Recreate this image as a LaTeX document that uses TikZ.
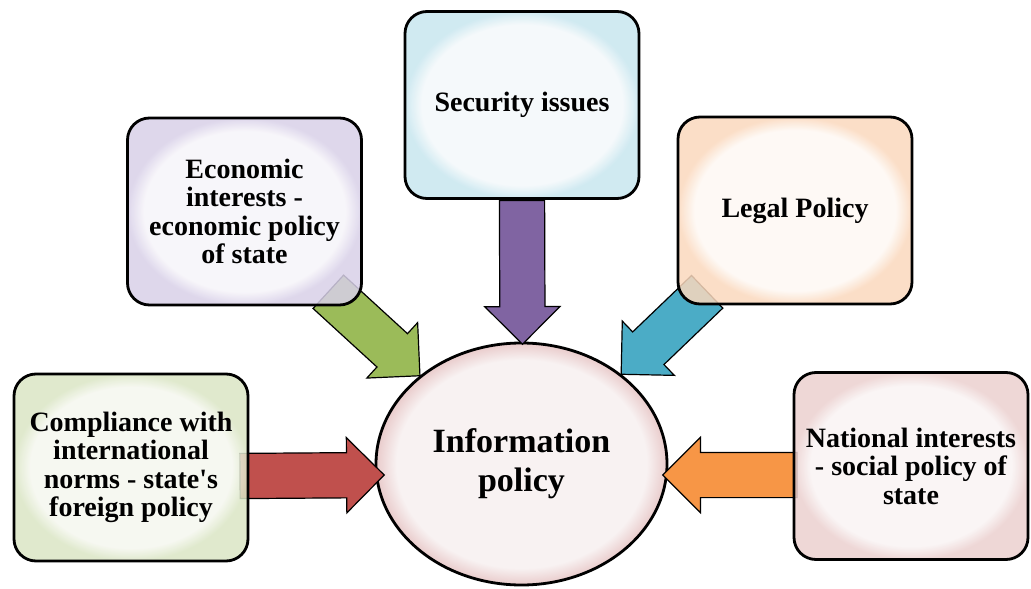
\documentclass[tikz,border=0pt]{standalone}
\usepackage{fontspec}
\setmainfont{Liberation Serif}
\usepackage{tikz}
\usetikzlibrary{arrows,shapes,positioning,calc}
\usepackage{xcolor}
\definecolor{ipred}{HTML}{C0504D}
\definecolor{ipgreen}{HTML}{9BBB59}
\definecolor{ippurple}{HTML}{8064A2}
\definecolor{ipblue}{HTML}{4BACC6}
\definecolor{iporange}{HTML}{F79646}
\definecolor{secin}{HTML}{F3F8FA}\definecolor{secout}{HTML}{C8E6EF}
\definecolor{econin}{HTML}{F6F4F9}\definecolor{econout}{HTML}{D8D0E8}
\definecolor{legalin}{HTML}{FEF8F3}\definecolor{legalout}{HTML}{FAD8BD}
\definecolor{compin}{HTML}{F5F7EF}\definecolor{compout}{HTML}{DAE5C4}
\definecolor{natin}{HTML}{F9F3F3}\definecolor{natout}{HTML}{EBD0CF}
\definecolor{infoin}{HTML}{F8F2F2}\definecolor{infoout}{HTML}{E9CBCB}
\colorlet{glossin}{white}\colorlet{glossout}{white}
\pgfdeclareradialshading[glossin,glossout]{gloss}{\pgfpoint{0bp}{0bp}}{color(0bp)=(glossin); color(21.5bp)=(glossin); color(25bp)=(glossout); color(50bp)=(glossout)}
\pgfdeclarelayer{background}
\pgfdeclarelayer{arrowlayer}
\pgfsetlayers{background,arrowlayer,main}
\tikzset{tint/.style={/utils/exec={\colorlet{glossin}{#1in}\colorlet{glossout}{#1out}}}}
\tikzstyle{topic} = [draw=black, line width=2.8pt, rounded corners=22pt, minimum width=234pt, minimum height=187pt, inner sep=0pt, align=center, shading=gloss, fill opacity=0.85, text opacity=1, font=\bfseries\fontsize{28}{28.5}\selectfont]
\tikzstyle{hub} = [ellipse, draw=black, line width=2.8pt, minimum width=291pt, minimum height=242pt, inner sep=0pt, align=center, shading=gloss, tint=info, font=\bfseries\fontsize{34}{39}\selectfont]
\tikzstyle{blockarrow} = [single arrow, draw=black, line width=1.2pt, single arrow head extend=15pt, inner xsep=0pt, inner ysep=22pt]
% block arrow from #2 to #3
\newcommand{\flowarrow}[3]{%
  \path let \p1=($(#3)-(#2)$) in
    node[blockarrow, fill=#1, anchor=tail, minimum height={veclen(\x1,\y1)}, rotate={atan2(\y1,\x1)}] at (#2) {};}

\begin{document}
\begin{tikzpicture}[x=1pt, y=-1pt]
\useasboundingbox (0,0) rectangle (1031,589);

% Centre
\begin{pgfonlayer}{background}
\node[hub] (info) at (521.5,464) {Information\\policy};
\end{pgfonlayer}

% Topics
\node[topic, tint=sec] (sec) at (522,105) {Security issues};
\node[topic, tint=econ] (econ) at (244.5,211.5) {Economic\\interests -\\economic policy\\of state};
\node[topic, tint=legal] (legal) at (795,210.5) {Legal Policy};
\node[topic, tint=comp] (comp) at (131,467.5) {Compliance with\\international\\norms - state\textquotesingle s\\foreign policy};
\node[topic, tint=nat] (nat) at (911,466) {National interests\\- social policy of\\state};

% Arrow ends
\coordinate (redtail) at ($(comp.east)+(-10,8.5)$);
\coordinate (redtip) at ($(info.west)+(9,11)$);
\coordinate (orangetail) at ($(nat.west)+(5,9)$);
\coordinate (orangetip) at ($(info.east)+(-5,11)$);
\coordinate (greentail) at ($(econ.south east)+(-35,-15)$);
\coordinate (bluetail) at ($(legal.south west)+(31,-14)$);
\coordinate (purpletip) at ($(info.north)+(1,2)$);

% Arrows
\begin{pgfonlayer}{arrowlayer}
\flowarrow{ipred}{redtail}{redtip}
\flowarrow{iporange}{orangetail}{orangetip}
\flowarrow{ippurple}{sec.south}{purpletip}
\flowarrow{ipgreen}{greentail}{info.139}
\flowarrow{ipblue}{bluetail}{info.42}
\end{pgfonlayer}
\end{tikzpicture}
\end{document}
